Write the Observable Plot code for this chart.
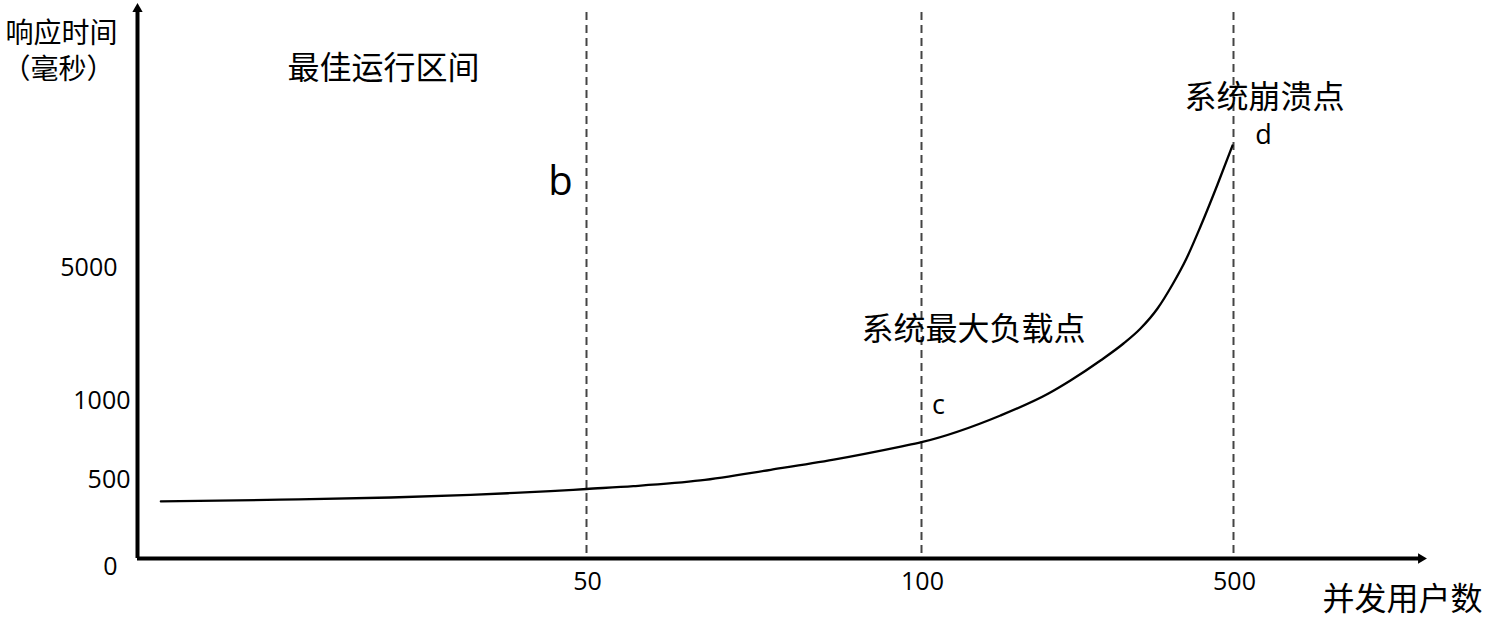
<!DOCTYPE html>
<html>
<head>
<meta charset="utf-8">
<script src="https://cdn.jsdelivr.net/npm/d3@7"></script>
<script src="https://cdn.jsdelivr.net/npm/@observablehq/plot@0.6"></script>
<style>
  html, body { margin: 0; padding: 0; background: #fff; }
  #chart svg { display: block; }
</style>
</head>
<body>
<div id="chart"></div>
<script>
// ---- data ----
const users      = [2.6, 15.9, 28.2, 37.1, 41.2, 46.0, 50, 57.0, 67.0, 77.5, 86.9, 96.9, 100,
                    201.3, 262.8, 291.0, 329.5, 359.0, 380.8, 402.6, 421.8, 439.7, 457.7, 479.5, 498.7];
const responseMs = [361, 372, 386, 403, 413, 426, 440, 458, 494, 562, 627, 710, 738,
                    908, 1226, 1617, 2218, 2729, 3180, 3782, 4504, 5285, 6246, 7507, 8677];

const xTicks = [50, 100, 500];
const yTicksNear = [500, 1000];
const yTicksFar = [5000];
const yOrigin = [0];
const markerUsers = [50, 100, 500];

const annotations = [
  {x: 27.4,  y: 10989, text: "最佳运行区间"},
  {x: 166.7, y: 3150,  text: "系统最大负载点"},
  {x: 539.7, y: 10118, text: "系统崩溃点"}
];
const pointLabels = [
  {x: 47.1,  y: 7567, text: "b", size: "big"},
  {x: 121.8, y: 971,  text: "c", size: "small"},
  {x: 538.5, y: 8977, text: "d", size: "small"}
];
const yTitleLine1 = "响应时间";
const yTitleLine2 = "（毫秒）";
const xTitle = "并发用户数";

// ---- chart ----
const curve = users.map((u, i) => ({u, ms: responseMs[i]}));
const LATIN = "'Open Sans', 'DejaVu Sans', sans-serif";
const CJK = "'Noto Sans CJK SC', 'Noto Sans', sans-serif";

const chart = Plot.plot({
  width: 1488,
  height: 623,
  marginLeft: 137,
  marginRight: 60,
  marginTop: 1,
  marginBottom: 65,
  style: {background: "#fff", fontFamily: LATIN, color: "#000"},
  x: {type: "linear", domain: [0, 50, 100, 500, 750], range: [137, 586, 921, 1233, 1428], axis: null},
  y: {type: "linear", domain: [0, 500, 1000, 5000, 13000], range: [558, 479, 400.5, 267.5, 1], axis: null},
  marks: [
    // dashed vertical guides
    Plot.ruleX(markerUsers, {x: d => d, stroke: "#444", strokeWidth: 2, strokeDasharray: "8,5", insetTop: 11}),
    // the curve
    Plot.line(curve, {x: "u", y: "ms", curve: "monotone-x", stroke: "#000", strokeWidth: 2.3}),
    // axes
    Plot.ruleY([0], {stroke: "#000", strokeWidth: 4, insetRight: 8}),
    Plot.ruleX([0], {stroke: "#000", strokeWidth: 4, insetTop: 8}),
    Plot.dot([0], {x: d => d, frameAnchor: "top", dy: 7.5, symbol: "triangle2", r: 4.9, fill: "#000", stroke: "none"}),
    Plot.dot([0], {y: d => d, frameAnchor: "right", dx: -7.5, rotate: 90, symbol: "triangle2", r: 4.9, fill: "#000", stroke: "none"}),
    // tick labels
    Plot.text(xTicks, {x: d => d, frameAnchor: "bottom", dy: 23, dx: 1, textAnchor: "middle", lineAnchor: "middle", text: d => String(d), fontSize: 25, fontFamily: LATIN, fill: "#000"}),
    Plot.text(yTicksNear, {y: d => d, frameAnchor: "left", dx: -7, textAnchor: "end", lineAnchor: "middle", text: d => String(d), fontSize: 25, fontFamily: LATIN, fill: "#000"}),
    Plot.text(yTicksFar, {y: d => d, frameAnchor: "left", dx: -20, textAnchor: "end", lineAnchor: "middle", text: d => String(d), fontSize: 25, fontFamily: LATIN, fill: "#000"}),
    Plot.text(yOrigin, {y: d => d, frameAnchor: "left", dx: -20, dy: 8.5, textAnchor: "end", lineAnchor: "middle", text: d => String(d), fontSize: 25, fontFamily: LATIN, fill: "#000"}),
    // axis titles
    Plot.text([yTitleLine1], {frameAnchor: "top-left", dx: -76, dy: 33, textAnchor: "middle", lineAnchor: "middle", text: d => d, fontSize: 28, fontFamily: CJK, fill: "#000"}),
    Plot.text([yTitleLine2], {frameAnchor: "top-left", dx: -79, dy: 69, textAnchor: "middle", lineAnchor: "middle", text: d => d, fontSize: 28, fontFamily: CJK, fill: "#000"}),
    Plot.text([xTitle], {frameAnchor: "bottom-right", dx: -26, dy: 41, textAnchor: "middle", lineAnchor: "middle", text: d => d, fontSize: 32, fontFamily: CJK, fill: "#000"}),
    // annotations
    Plot.text(annotations, {x: "x", y: "y", text: "text", fontSize: 32, fontFamily: CJK, fill: "#000"}),
    Plot.text(pointLabels.filter(d => d.size === "big"), {x: "x", y: "y", text: "text", fontSize: 40, fontFamily: LATIN, fill: "#000"}),
    Plot.text(pointLabels.filter(d => d.size === "small"), {x: "x", y: "y", text: "text", fontSize: 27, fontFamily: LATIN, fill: "#000"})
  ]
});
document.getElementById("chart").appendChild(chart);
</script>
</body>
</html>
